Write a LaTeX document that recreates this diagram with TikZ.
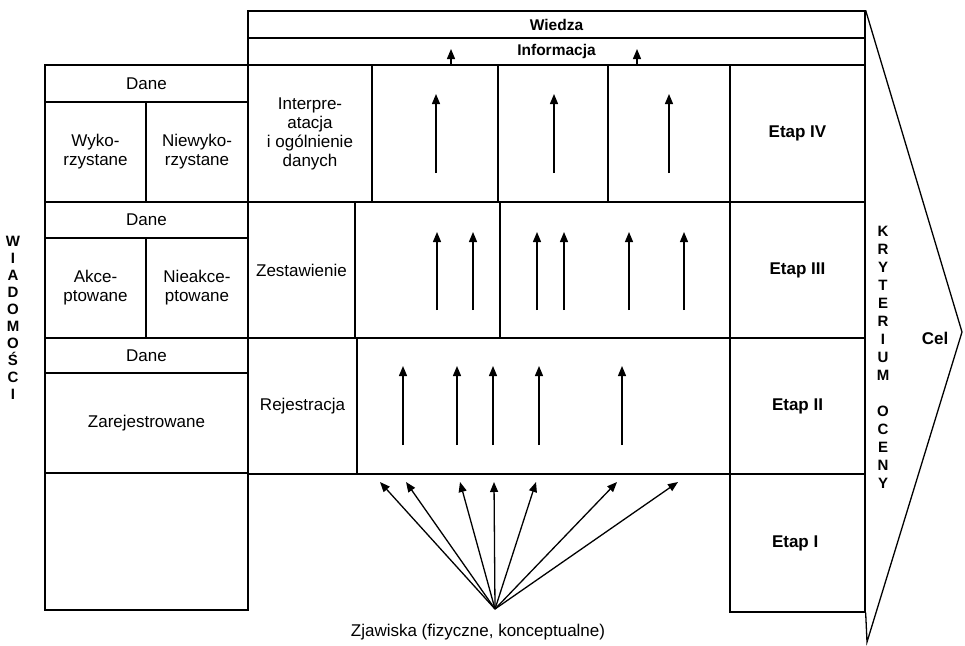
\documentclass[tikz,border=0pt]{standalone}
\usepackage{fontspec}
\setmainfont{Liberation Sans}
\usetikzlibrary{arrows.meta,positioning}

\tikzset{
  cell/.style={draw, line width=1.3pt, inner sep=0pt, align=center,
               font=\fontsize{17}{19}\selectfont},
  flow/.style={line width=1.3pt, -{Triangle[width=8pt,length=10pt]}},
  vletters/.style={align=center, font=\fontsize{15}{17}\selectfont\bfseries},
}

\begin{document}
\begin{tikzpicture}[x=1pt,y=-1pt]
  \useasboundingbox (0,0) rectangle (965,645);
  % cells of the scheme
  \foreach \nm/\xa/\ya/\xb/\yb/\txt in {
    wiedza/248/11/865/38/{\fontsize{15.5}{17}\selectfont\bfseries Wiedza},
    info/248/38/865/65/{\fontsize{15.5}{17}\selectfont\bfseries Informacja},
    daneA/45/65/248/102/{Dane},
    wyko/45/102/146/202/{Wyko-\\rzystane},
    niewyko/146/102/248/202/{Niewyko-\\rzystane},
    daneB/45/202/248/238/{Dane},
    akce/45/238/146/338/{Akce-\\ptowane},
    nieakce/146/238/248/338/{Nieakce-\\ptowane},
    daneC/45/338/248/373/{Dane},
    zarej/45/373/248/473/{Zarejestrowane},
    pusty/45/473/248/610/{},
    interp/248/65/372/202/{Interpre-\\atacja\\i ogólnienie\\danych},
    zest/248/202/355/338/{Zestawienie},
    rejestr/248/338/357/474/{Rejestracja},
    ivA/372/65/498/202/{},
    ivB/498/65/608/202/{},
    ivC/608/65/730/202/{},
    iiiA/355/202/500/338/{},
    iiiB/500/202/730/338/{},
    iiA/357/338/730/474/{},
    etapIV/730/65/865/202/{\bfseries Etap IV},
    etapIII/730/202/865/338/{\bfseries Etap III},
    etapII/730/338/865/474/{\bfseries Etap II},
    etapI/730/474/865/612/{\bfseries Etap I}
  }{
    \node[cell, minimum width={(\xb-\xa)*1pt}, minimum height={(\yb-\ya)*1pt}]
      (\nm) at ({(\xa+\xb)/2},{(\ya+\yb)/2}) {\txt};
  }

  % target arrow on the right
  \coordinate (celtip) at (962,332);
  \coordinate (celdol) at (867,642);
  \draw[line width=1.3pt] (wiedza.north east) -- (celtip) -- (celdol) -- (etapI.south east);
  \node[font=\fontsize{17}{19}\selectfont\bfseries] (cel) at (935,338) {Cel};

  % vertical captions
  \node[vletters] (wiad) at (13,318) {W\\I\\A\\D\\O\\M\\O\\Ś\\C\\I};
  \node[vletters, font=\fontsize{15}{18}\selectfont\bfseries] (kryt) at (883,357)
    {K\\R\\Y\\T\\E\\R\\I\\U\\M\\[18pt]O\\C\\E\\N\\Y};

  % arrows into Informacja
  \foreach \x [count=\i] in {451,637}{
    \coordinate (infA\i) at (\x,65);
    \coordinate (infB\i) at (\x,49);
    \draw[flow] (infA\i) -- (infB\i);
  }
  % stage IV arrows
  \foreach \x [count=\i] in {436,554,669}{
    \coordinate (ivS\i) at (\x,173);
    \coordinate (ivE\i) at (\x,94);
    \draw[flow] (ivS\i) -- (ivE\i);
  }
  % stage III arrows
  \foreach \x [count=\i] in {437,473,537,564,629,684}{
    \coordinate (iiiS\i) at (\x,310);
    \coordinate (iiiE\i) at (\x,232);
    \draw[flow] (iiiS\i) -- (iiiE\i);
  }
  % stage II arrows
  \foreach \x [count=\i] in {403,457,493,539,622}{
    \coordinate (iiS\i) at (\x,445);
    \coordinate (iiE\i) at (\x,366);
    \draw[flow] (iiS\i) -- (iiE\i);
  }
  % phenomena fan
  \coordinate (zrodlo) at (495,609);
  \foreach \x [count=\i] in {380,406,460,494,536,617,678}{
    \coordinate (fan\i) at (\x,482);
    \draw[flow] (zrodlo) -- (fan\i);
  }
  \node[font=\fontsize{17}{19}\selectfont] (zjaw) at (478,632)
    {Zjawiska (fizyczne, konceptualne)};
\end{tikzpicture}
\end{document}
